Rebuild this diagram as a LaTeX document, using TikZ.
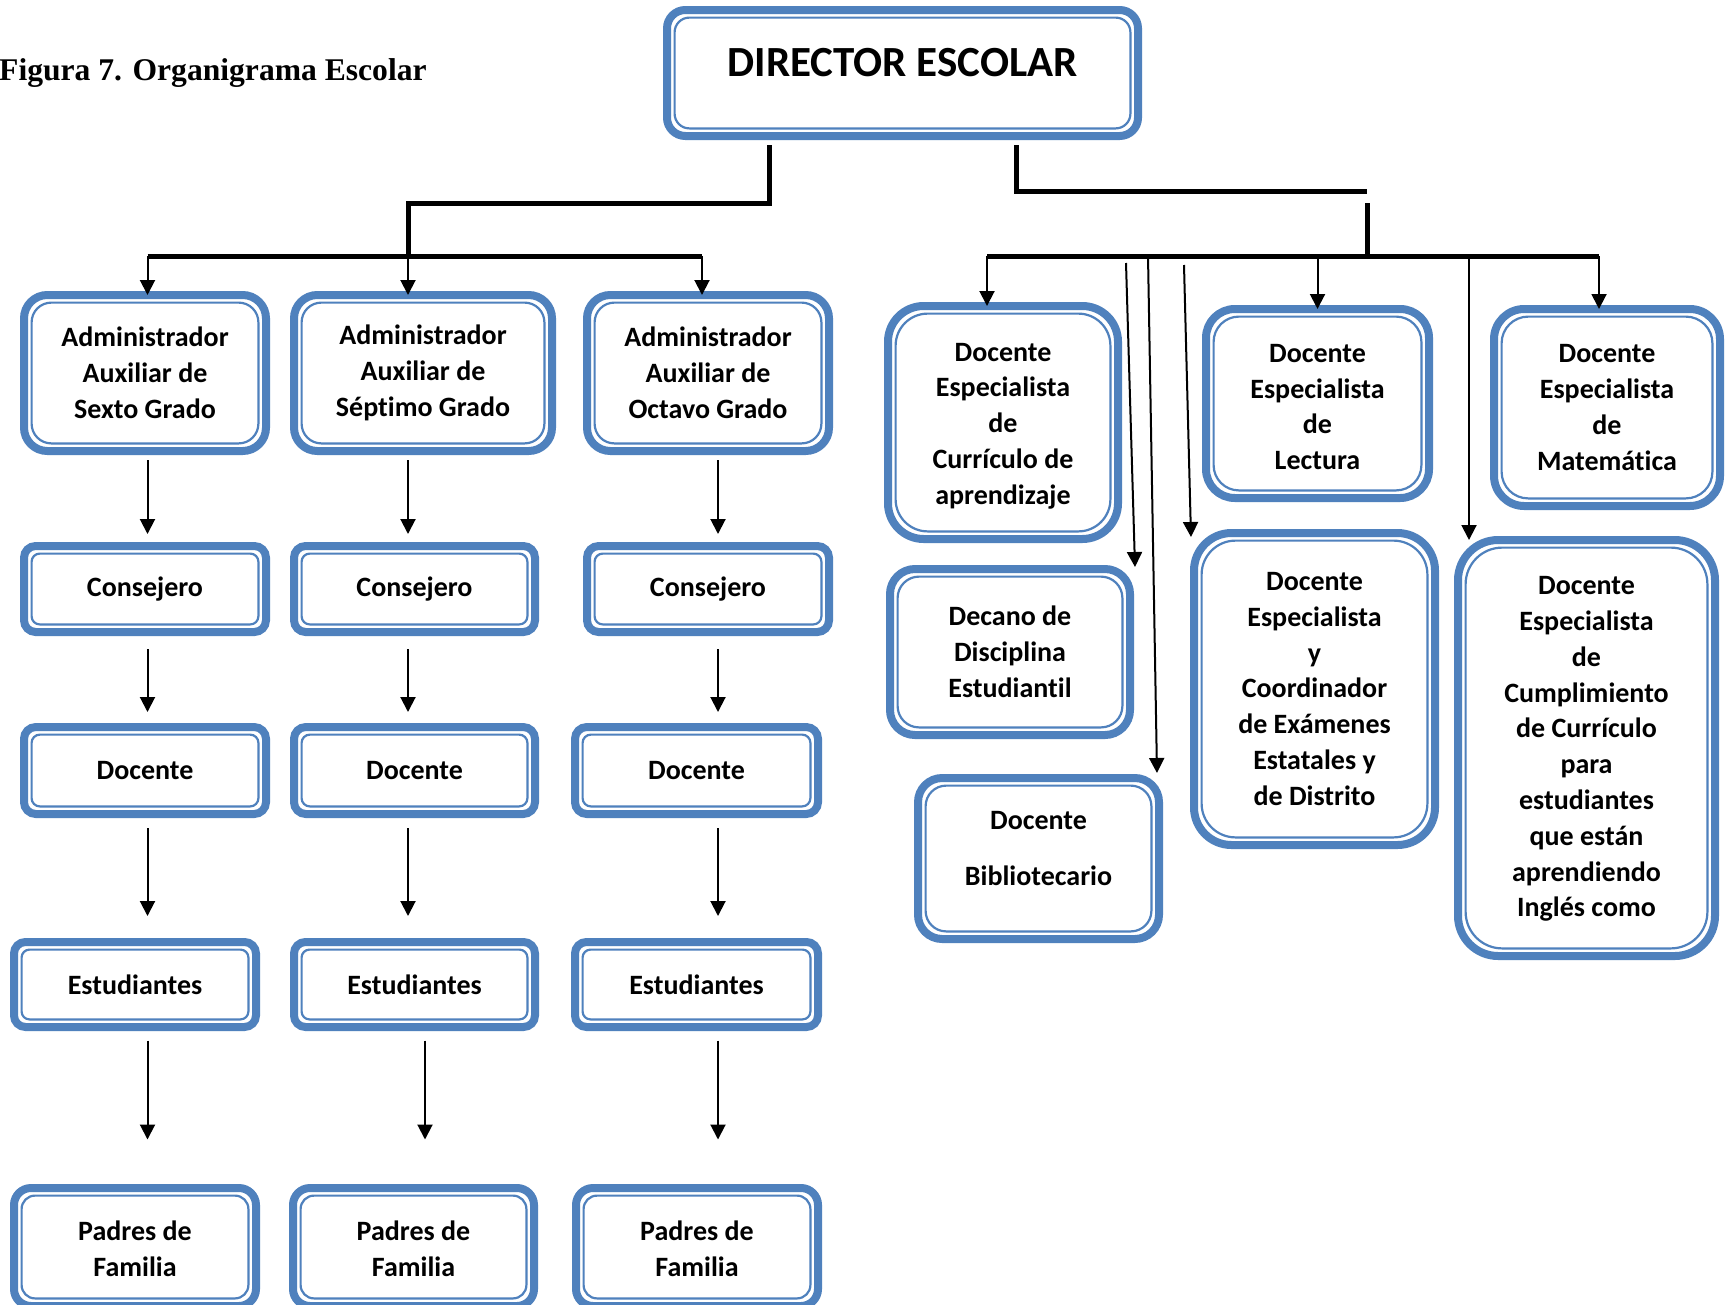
\documentclass[tikz,border=0pt]{standalone}
\usepackage{fontspec}
\setmainfont{Carlito}[Ligatures=NoCommon]
\newfontfamily\captionfont{Liberation Serif}
\usetikzlibrary{arrows.meta,calc}
\definecolor{frameblue}{HTML}{4F81BD}

\tikzset{
  orgframe/.style={draw=frameblue, line width=8pt, fill=white, inner sep=0pt, outer sep=0pt},
  orginner/.style={draw=frameblue, line width=2.2pt},
  orgtext/.style={align=center, inner sep=0pt, font=\fontsize{28}{35.8}\selectfont\bfseries},
  bigtext/.style={align=center, inner sep=0pt, font=\fontsize{43}{48}\selectfont\bfseries},
  trunk/.style={line width=5pt, line join=miter},
  arr/.style={line width=2pt, -{Triangle[length=15pt,width=15pt]}},
  gapA/.style={shorten <=9pt, shorten >=12pt},
  gapB/.style={shorten <=17pt, shorten >=15pt},
  gapC/.style={shorten <=14pt, shorten >=26pt},
  gapD/.style={shorten <=13.5pt, shorten >=48.5pt},
}

% \orgbox[text lift]{name}{left}{top}{right}{bottom}{text}
% outer edges in px; double blue frame with rounded corners
\newcommand\orgbox[7][0]{%
  \pgfmathsetmacro\orgro{max(0.1667*min(#5-#3,#6-#4)-4,2)}%
  \pgfmathsetmacro\orgri{max(\orgro-3.6,1)}%
  \node[orgframe, rounded corners=\orgro pt,
        minimum width={#5-#3-8}, minimum height={#6-#4-8}]
        (#2) at ({(#3+#5)/2},{(#4+#6)/2}) {};
  \draw[orginner, rounded corners=\orgri pt]
        ([shift={(7.6,7.6)}]#2.north west) rectangle ([shift={(-7.6,-7.6)}]#2.south east);
  \node[orgtext] (#2-text) at ([yshift=#1]#2.center) {#7};
}

\begin{document}
\begin{tikzpicture}[x=1pt,y=-1pt]
\fill[white] (0,0) rectangle (1726,1304);
\useasboundingbox (0,0) rectangle (1726,1304);

\node[anchor=base west, inner sep=0pt, font=\captionfont\bfseries\fontsize{31.6}{36}\selectfont]
  (title) at (-1,80) {Figura 7. Organigrama Escolar};

% director
\pgfmathsetmacro\orgro{0.1667*134-4}
\node[orgframe, rounded corners=\orgro pt, minimum width=471, minimum height=126]
  (dir) at (902.5,73) {};
\draw[orginner, rounded corners=\orgro pt-3.6pt]
  ([shift={(7.6,7.6)}]dir.north west) rectangle ([shift={(-7.6,-7.6)}]dir.south east);
\node[bigtext] (dir-text) at ([yshift=10]dir.center) {DIRECTOR ESCOLAR};

% grade columns
\orgbox{adm6}{20}{291}{270}{455}{Administrador\\Auxiliar de\\Sexto Grado}
\orgbox{adm7}{290}{291}{556}{455}{Administrador\\Auxiliar de\\Séptimo Grado}
\orgbox{adm8}{583}{291}{833}{455}{Administrador\\Auxiliar de\\Octavo Grado}

\orgbox{cons1}{20}{542}{270}{636}{Consejero}
\orgbox{cons2}{290}{542}{539}{636}{Consejero}
\orgbox{cons3}{583}{542}{833}{636}{Consejero}

\orgbox{doc1}{20}{723}{270}{818}{Docente}
\orgbox{doc2}{290}{723}{539}{818}{Docente}
\orgbox{doc3}{571}{723}{822}{818}{Docente}

\orgbox{est1}{10}{938}{260}{1031}{Estudiantes}
\orgbox{est2}{290}{938}{539}{1031}{Estudiantes}
\orgbox{est3}{571}{938}{822}{1031}{Estudiantes}

\orgbox[-2]{pad1}{10}{1184}{260}{1310}{Padres de\\Familia}
\orgbox[-2]{pad2}{289}{1184}{538}{1310}{Padres de\\Familia}
\orgbox[-2]{pad3}{572}{1184}{822}{1310}{Padres de\\Familia}

% specialists
\orgbox[-3.5]{cur}{884}{302}{1122}{543}{Docente\\Especialista\\de\\Currículo de\\aprendizaje}
\orgbox[-3.5]{lec}{1202}{305}{1433}{502}{Docente\\Especialista\\de\\Lectura}
\orgbox{mat}{1490}{305}{1724}{510}{Docente\\Especialista\\de\\Matemática}
\orgbox{dec}{886}{565}{1134}{739}{Decano de\\Disciplina\\Estudiantil}
\orgbox[10]{bib}{914}{774}{1163}{943}{Docente\\[20.5pt]Bibliotecario}
\orgbox{coo}{1190}{529}{1439}{849}{Docente\\Especialista\\y\\Coordinador\\de Exámenes\\Estatales y\\de Distrito}
\orgbox[-1]{cum}{1454}{536}{1719}{960}{Docente\\Especialista\\de\\Cumplimiento\\de Currículo\\para\\estudiantes\\que están\\aprendiendo\\Inglés como}

% trunk lines below the director
\coordinate (ldrop) at (769,0);
\coordinate (rdrop) at (1016,0);
\coordinate (lelbow) at (408,203);
\coordinate (relbow) at (1367,191);
\coordinate (lbar-w) at (147.5,256);
\coordinate (lbar-e) at (702,256);
\coordinate (rbar-w) at (987,256);
\coordinate (rbar-e) at (1599,256);

\draw[trunk] ([yshift=-9pt]dir.south -| ldrop) |- (lelbow) -- (lelbow |- lbar-w);
\draw[trunk] (lbar-w) -- (lbar-e);
\draw[trunk] ([yshift=-9pt]dir.south -| rdrop) |- (relbow);
\draw[trunk] ([yshift=-12pt]relbow) -- (relbow |- rbar-w);
\draw[trunk] (rbar-w) -- (rbar-e);

% arrows to the grade administrators
\draw[arr] (lbar-w) -- (lbar-w |- adm6.north);
\draw[arr] (lelbow |- lbar-w) -- (lelbow |- adm7.north);
\draw[arr] (lbar-e) -- (lbar-e |- adm8.north);

% arrows to the specialists
\coordinate (cumdrop) at (1469,256);
\coordinate (bibsrc) at (1148,256);
\coordinate (decsrc) at (1126,263);
\coordinate (coosrc) at (1184,265);
\draw[arr] (rbar-w) -- (rbar-w |- cur.north);
\draw[arr] (lec.north |- rbar-w) -- (lec.north);
\draw[arr] (rbar-e) -- (rbar-e |- mat.north);
\draw[arr] (cumdrop) -- (cumdrop |- cum.north);
\draw[arr] (decsrc) -- ([xshift=5pt,yshift=2pt]dec.north east);
\draw[arr] (bibsrc) -- ([xshift=-2pt,yshift=5pt]bib.north east);
\draw[arr] (coosrc) -- ([xshift=-3pt,yshift=-4pt]coo.north west);

% arrows down each grade column
\coordinate (c1) at (147.5,0);
\coordinate (c2) at (408,0);
\coordinate (c2b) at (425,0);
\coordinate (c3) at (718,0);

\draw[arr, gapA] (adm6.south -| c1) -- (cons1.north -| c1);
\draw[arr, gapB] (cons1.south -| c1) -- (doc1.north -| c1);
\draw[arr, gapC] (doc1.south -| c1) -- (est1.north -| c1);
\draw[arr, gapD] (est1.south -| c1) -- (pad1.north -| c1);

\draw[arr, gapA] (adm7.south -| c2) -- (cons2.north -| c2);
\draw[arr, gapB] (cons2.south -| c2) -- (doc2.north -| c2);
\draw[arr, gapC] (doc2.south -| c2) -- (est2.north -| c2);
\draw[arr, gapD] (est2.south -| c2b) -- (pad2.north -| c2b);

\draw[arr, gapA] (adm8.south -| c3) -- (cons3.north -| c3);
\draw[arr, gapB] (cons3.south -| c3) -- (doc3.north -| c3);
\draw[arr, gapC] (doc3.south -| c3) -- (est3.north -| c3);
\draw[arr, gapD] (est3.south -| c3) -- (pad3.north -| c3);
\end{tikzpicture}
\end{document}
